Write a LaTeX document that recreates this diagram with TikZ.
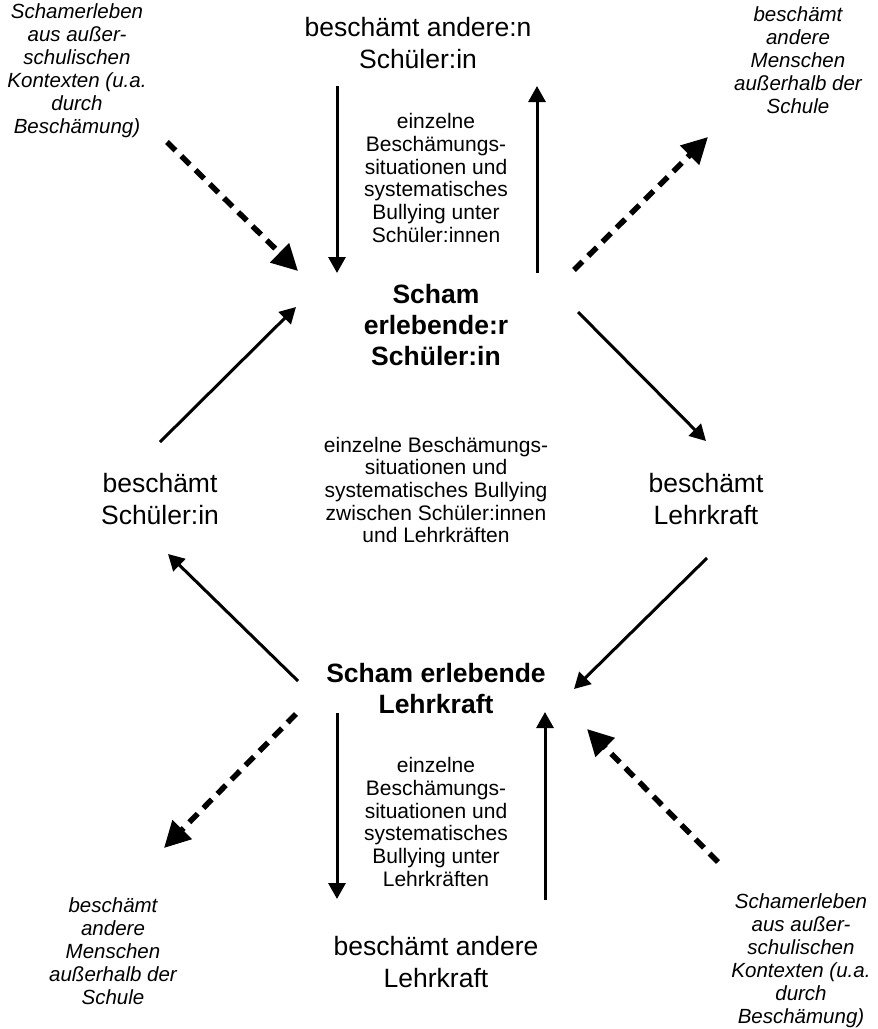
\documentclass[tikz,border=0pt]{standalone}
\usepackage{fontspec}
\setmainfont{Liberation Sans}
\usetikzlibrary{arrows.meta}
\tikzset{
  big/.style={align=center,inner sep=0pt,font=\fontsize{26.5}{32}\selectfont},
  bigbold/.style={align=center,inner sep=0pt,font=\fontsize{26.5}{31}\selectfont\bfseries},
  mid/.style={align=center,inner sep=0pt,font=\fontsize{21}{22.7}\selectfont},
  ital/.style={align=center,inner sep=0pt,font=\fontsize{20.5}{23}\selectfont\itshape},
  solidarrow/.style={line width=3pt,-{Triangle[length=16pt,width=17pt]}},
  dasharrow/.style={line width=5.5pt,dash pattern=on 12pt off 8pt,-{Triangle[length=26pt,width=26pt]}},
}
\begin{document}
\begin{tikzpicture}[x=1pt,y=-1pt]
\useasboundingbox (0,0) rectangle (878,1029);
% texts
\node[big] (topS) at (418,43) {beschämt andere:n\\Schüler:in};
\node[ital] (tl) at (77,71) {Schamerleben\\aus außer-\\schulischen\\Kontexten (u.a.\\durch\\Beschämung)};
\node[ital] (tr) at (798,60) {beschämt\\andere\\Menschen\\außerhalb der\\Schule};
\node[mid] (c1) at (436,178) {einzelne\\Beschämungs-\\situationen und\\systematisches\\Bullying unter\\Schüler:innen};
\node[bigbold] (sS) at (436,325) {Scham\\erlebende:r\\Schüler:in};
\node[big] (bS) at (160,499) {beschämt\\Schüler:in};
\node[mid] (c2) at (436,490) {einzelne Beschämungs-\\situationen und\\systematisches Bullying\\zwischen Schüler:innen\\und Lehrkräften};
\node[big] (bL) at (706,499) {beschämt\\Lehrkraft};
\node[bigbold] (sL) at (436,689) {Scham erlebende\\Lehrkraft};
\node[mid] (c3) at (436,822) {einzelne\\Beschämungs-\\situationen und\\systematisches\\Bullying unter\\Lehrkräften};
\node[big] (bAL) at (436,962) {beschämt andere\\Lehrkraft};
\node[ital] (bl) at (113,951) {beschämt\\andere\\Menschen\\außerhalb der\\Schule};
\node[ital] (br) at (801,961) {Schamerleben\\aus außer-\\schulischen\\Kontexten (u.a.\\durch\\Beschämung)};
% endpoints
\coordinate (a1s) at (337,86);  \coordinate (a1e) at (337,273);
\coordinate (a2s) at (537,273); \coordinate (a2e) at (537,86);
\coordinate (d1s) at (167,142); \coordinate (d1e) at (298,271);
\coordinate (d2s) at (574,270); \coordinate (d2e) at (708,137);
\coordinate (a3s) at (160,442); \coordinate (a3e) at (296,307);
\coordinate (a4s) at (578,312); \coordinate (a4e) at (706,441);
\coordinate (a5s) at (707,558); \coordinate (a5e) at (574,689);
\coordinate (a6s) at (298,681); \coordinate (a6e) at (168,554);
\coordinate (a7s) at (337,713); \coordinate (a7e) at (337,899);
\coordinate (a8s) at (545,900); \coordinate (a8e) at (545,712);
\coordinate (d3s) at (296,714); \coordinate (d3e) at (164,848);
\coordinate (d4s) at (718,862); \coordinate (d4e) at (587,729);
% arrows
\draw[solidarrow] (a1s) -- (a1e);
\draw[solidarrow] (a2s) -- (a2e);
\draw[dasharrow] (d1s) -- (d1e);
\draw[dasharrow] (d2s) -- (d2e);
\draw[solidarrow] (a3s) -- (a3e);
\draw[solidarrow] (a4s) -- (a4e);
\draw[solidarrow] (a5s) -- (a5e);
\draw[solidarrow] (a6s) -- (a6e);
\draw[solidarrow] (a7s) -- (a7e);
\draw[solidarrow] (a8s) -- (a8e);
\draw[dasharrow] (d3s) -- (d3e);
\draw[dasharrow] (d4s) -- (d4e);
\end{tikzpicture}
\end{document}
